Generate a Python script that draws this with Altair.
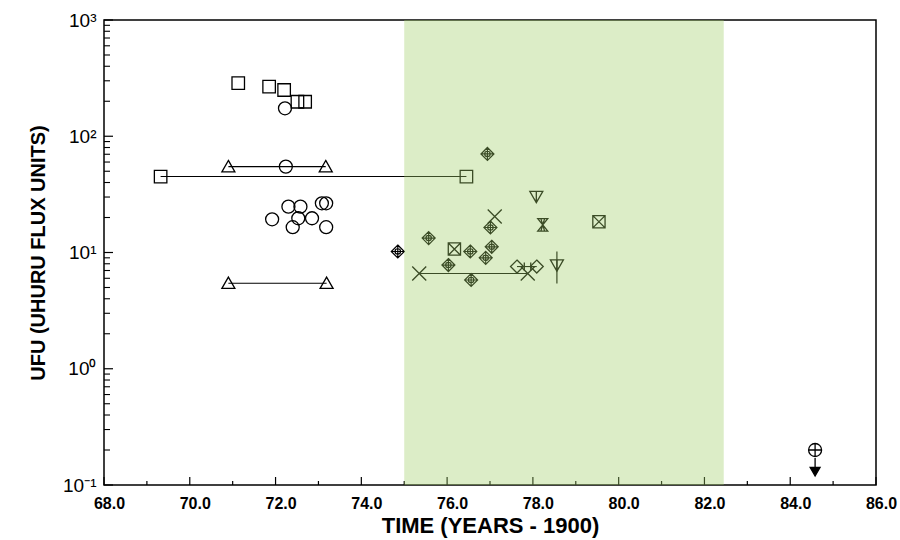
import altair as alt
import pandas as pd

# ---------------- measurements ----------------
# open squares
square_year = [71.13, 71.85, 72.20, 72.51, 72.69, 69.32, 76.45]
square_flux = [286, 267, 250, 198, 198, 45, 45]

# open circles
circle_year = [72.22, 72.24, 71.92, 72.30, 72.58, 72.53, 72.85, 72.40, 73.18, 73.08, 73.18]
circle_flux = [174, 54.8, 19.3, 24.8, 24.8, 19.7, 19.7, 16.5, 16.5, 26.5, 26.5]

# open triangles
triangle_year = [70.90, 73.17, 70.90, 73.19]
triangle_flux = [54.8, 54.8, 5.44, 5.44]

# diamonds with cross
crossdiamond_year = [76.94, 77.01, 75.57, 74.85, 76.54, 77.04, 76.90, 76.03, 76.56]
crossdiamond_flux = [70.4, 16.4, 13.3, 10.2, 10.2, 11.2, 9.0, 7.8, 5.8]

# boxed crosses
boxx_year = [76.17, 79.54]
boxx_flux = [10.7, 18.4]

# crosses
cross_year = [77.11, 75.35, 77.88]
cross_flux = [20.4, 6.6, 6.6]

# plain diamonds
diamond_year = [77.63, 78.09]
diamond_flux = [7.57, 7.57]

# inverted triangles
tridown_year = [78.08, 78.56]
tridown_flux = [30.3, 7.8]

# hourglass
hourglass_year = [78.23]
hourglass_flux = [17.3]

# upper limit
limit_year = [84.58]
limit_flux = [0.20]

# horizontal range bars
seg_start = [69.32, 70.90, 70.90, 75.35, 77.63]
seg_end = [76.45, 73.17, 73.19, 77.88, 78.09]
seg_flux = [45, 54.8, 5.44, 6.6, 7.57]

# vertical error bar
err_year = [78.56]
err_low = [5.4]
err_high = [10.2]

# small ticks on the diamond pair bar
pairtick_year = [77.80, 77.95]
pairtick_flux = [7.57, 7.57]

# shaded interval
band_start = [75.0]
band_end = [82.45]

# axis ticks
x_major = list(range(68, 87, 2))
x_minor = list(range(69, 86, 2))
y_major = [0.1, 1, 10, 100, 1000]
y_minor = [k * 10.0 ** d for d in range(-1, 3) for k in range(2, 10)]

# ---------------- layout ----------------
W, H = 772, 465
FONT = "Liberation Sans"

xscale = alt.Scale(domain=[68, 86], nice=False, zero=False)
yscale = alt.Scale(type="log", domain=[0.1, 1000], nice=False)

xaxis = alt.Axis(
    values=x_major, format=".1f", ticks=False, domain=False, grid=False,
    labelFontSize=16, labelFontWeight="bold", labelFont=FONT, labelColor="black",
    labelPadding=10, labelOffset=5, labelFlush=False,
    title="TIME (YEARS - 1900)", titleFontSize=22, titleFontWeight="bold",
    titleFont=FONT, titleColor="black", titlePadding=4,
)
yaxis = alt.Axis(
    values=y_major, ticks=False, domain=False, grid=False,
    labelExpr="['10⁻¹','10⁰','10¹','10²','10³'][round(log(datum.value)/LN10)+1]",
    labelFontSize=19, labelFont=FONT, labelColor="black", labelPadding=8,
    labelFlush=False,
    title="UFU (UHURU FLUX UNITS)", titleFontSize=20, titleFontWeight="bold",
    titleFont=FONT, titleColor="black", titlePadding=14,
)


def X(field="year"):
    return alt.X(f"{field}:Q", scale=xscale, axis=xaxis)


def Y(field="flux"):
    return alt.Y(f"{field}:Q", scale=yscale, axis=yaxis)


def frame(xs, ys):
    return pd.DataFrame({"year": xs, "flux": ys})


def markers(xs, ys, path, size, width=1.3, filled=False, **kw):
    style = dict(shape=path, size=size, filled=filled, stroke="black",
                 strokeWidth=width, opacity=1)
    if filled:
        style["fill"] = "black"
    return alt.Chart(frame(xs, ys)).mark_point(**style, **kw).encode(x=X(), y=Y())


SQUARE = "M-1,-1H1V1H-1Z"
CIRCLE = "M-1,0A1,1 0 1,0 1,0A1,1 0 1,0 -1,0Z"
TRI_UP = "M0,-0.95L1,0.8L-1,0.8Z"
CROSS_DIAMOND = ("M0,-1L1,0L0,1L-1,0Z M0,-1L0,1 M-1,0L1,0 "
                 "M-0.42,0A0.42,0.42 0 1,0 0.42,0A0.42,0.42 0 1,0 -0.42,0")
BOX_X = "M-1,-1H1V1H-1Z M-1,-1L1,1 M1,-1L-1,1"
X_CROSS = "M-1,-1L1,1 M1,-1L-1,1"
DIAMOND = "M0,-1L1,0L0,1L-1,0Z"
TRI_DOWN = "M-1,-0.8L1,-0.8L0,0.95Z M0,-0.8L0,0.95 M-0.3,0.4L0,0.95L0.3,0.4"
HOURGLASS = "M-0.8,-1H0.8L-0.8,1H0.8Z M-0.3,-1L0.3,1 M0.3,-1L-0.3,1"
CIRCLE_PLUS = "M-1,0A1,1 0 1,0 1,0A1,1 0 1,0 -1,0Z M-1,0L1,0 M0,-1L0,1"
ARROW = "M0,-1L0,0.05 M-0.55,0.05L0.55,0.05L0,1Z"
VTICK = "M0,-1L0,1"

# inward axis ticks
xt_major = alt.Chart(pd.DataFrame({"year": x_major})).mark_rule(
    color="black", strokeWidth=1.2
).encode(x=X(), y=alt.value(H), y2=alt.value(H - 8))
xt_minor = alt.Chart(pd.DataFrame({"year": x_minor})).mark_rule(
    color="black", strokeWidth=1.2
).encode(x=X(), y=alt.value(H), y2=alt.value(H - 4))
yt_major = alt.Chart(pd.DataFrame({"flux": y_major})).mark_rule(
    color="black", strokeWidth=1.2
).encode(y=Y(), x=alt.value(0), x2=alt.value(9))
yt_minor = alt.Chart(pd.DataFrame({"flux": y_minor})).mark_rule(
    color="black", strokeWidth=1.1
).encode(y=Y(), x=alt.value(0), x2=alt.value(6))

# range bars
segments = alt.Chart(
    pd.DataFrame({"year": seg_start, "year_end": seg_end, "flux": seg_flux})
).mark_rule(color="black", strokeWidth=1.1).encode(
    x=X(), x2="year_end:Q", y=Y()
)
errbar = alt.Chart(
    pd.DataFrame({"year": err_year, "flux": err_low, "flux_hi": err_high})
).mark_rule(color="black", strokeWidth=1.2).encode(
    x=X(), y=Y(), y2="flux_hi:Q"
)

# shaded interval, laid over everything inside the frame
band = alt.Chart(
    pd.DataFrame({"year": band_start, "year_end": band_end})
).mark_rect(color="rgb(160,206,104)", opacity=0.37).encode(
    x=X(), x2="year_end:Q", y=alt.value(0), y2=alt.value(H)
)

layers = [
    xt_major, xt_minor, yt_major, yt_minor,
    segments, errbar,
    markers(square_year, square_flux, SQUARE, 156),
    markers(circle_year, circle_flux, CIRCLE, 169),
    markers(triangle_year, triangle_flux, TRI_UP, 169),
    markers(crossdiamond_year, crossdiamond_flux, CROSS_DIAMOND, 169, width=1.2),
    markers(boxx_year, boxx_flux, BOX_X, 150),
    markers(cross_year, cross_flux, X_CROSS, 196),
    markers(diamond_year, diamond_flux, DIAMOND, 169),
    markers(tridown_year, tridown_flux, TRI_DOWN, 169),
    markers(hourglass_year, hourglass_flux, HOURGLASS, 156),
    markers(pairtick_year, pairtick_flux, VTICK, 64),
    markers(limit_year, limit_flux, CIRCLE_PLUS, 169),
    markers(limit_year, limit_flux, ARROW, 324, filled=True, yOffset=17),
    band,
]

chart = alt.layer(*layers).properties(
    width=W, height=H,
    autosize=alt.AutoSizeParams(type="none"),
    padding={"left": 104, "top": 20, "right": 24, "bottom": 55},
    background="white",
).configure_view(
    stroke="black", strokeWidth=1.5, fill="white"
)

chart.save("out.html", embed_options={"renderer": "svg", "actions": False})
